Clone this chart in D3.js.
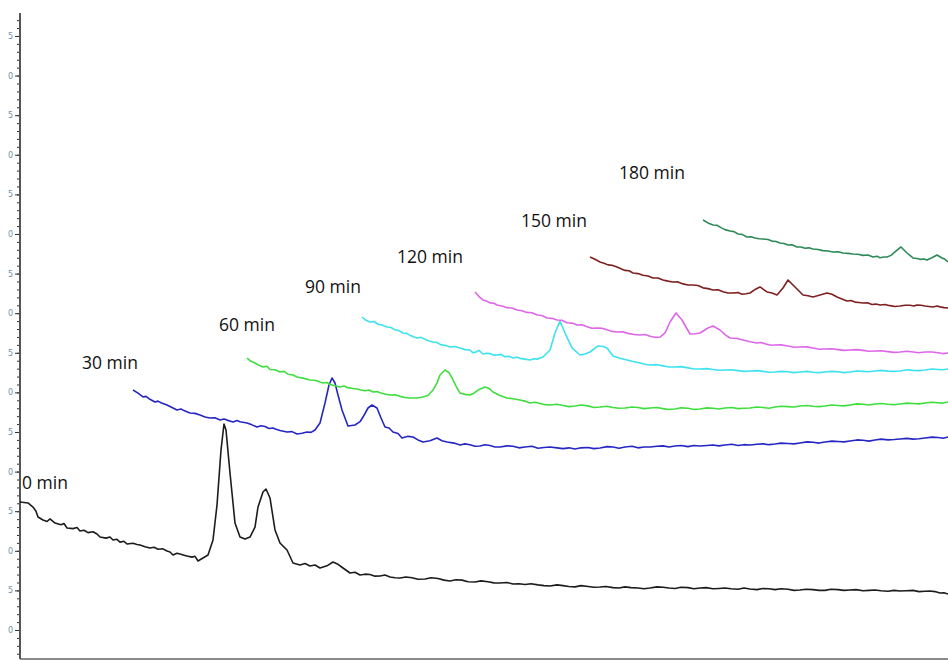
<!DOCTYPE html>
<html>
<head>
<meta charset="utf-8">
<script src="https://cdn.jsdelivr.net/npm/d3@7"></script>
<style>
  html, body { margin: 0; padding: 0; background: #fff; }
  svg { display: block; }
</style>
</head>
<body>
<svg id="chart" width="948" height="660"></svg>
<script>
// ---- data (x: retention offset units, y: signal units) ----
const seriesNames = ["0 min", "30 min", "60 min", "90 min", "120 min", "150 min", "180 min"];
const seriesColors = ["#1c1c1c", "#2626c4", "#3ede3e", "#3ee2ee", "#de66e8", "#7e2020", "#2c8a56"];

const trace0 = [[0,16.16],[8,16.04],[13,15.53],[16,15.0],[18,14.27],[23,13.89],[27,13.7],[30,14.02],[35,13.51],[41,13.3],[44,13.45],[47,12.88],[53,12.8],[57,12.95],[60,12.5],[64,12.6],[68,12.3],[73,12.4],[77,12.12],[80,11.74],[86,11.6],[90,11.75],[93,11.36],[97,11.45],[100,11.1],[104,11.2],[107,10.86],[113,10.95],[117,10.8],[120,10.73],[125,10.5],[130,10.35],[134,10.45],[138,10.2],[143,10.25],[147,9.97],[150,9.85],[153,9.47],[157,9.7],[160,9.6],[164,9.45],[167,9.34],[172,9.2],[175,9.3],[178,8.71],[183,9.09],[188,9.47],[193,11.36],[197,15.78],[201,22.73],[204,26.01],[206,25.25],[210,19.82],[215,13.51],[220,11.74],[225,11.49],[230,11.74],[235,13.0],[238,15.53],[243,17.42],[246,17.8],[250,16.67],[255,12.63],[260,10.98],[267,10.1],[273,8.46],[280,8.21],[285,8.4],[290,8.08],[295,8.2],[300,7.83],[307,8.1],[313,8.59],[318,8.3],[323,7.83],[330,7.2],[335,7.3],[340,6.94],[345,7.05],[350,7.0],[355,6.8],[360,6.82],[365,6.95],[370,6.7],[375,6.6],[380,6.57],[386,6.7],[392,6.6],[398,6.4],[405,6.44],[411,6.6],[418,6.5],[424,6.3],[430,6.19],[436,6.35],[442,6.3],[448,6.1],[455,6.06],[461,6.2],[468,6.1],[474,5.95],[480,5.93],[487,6.0],[493,5.8],[499,5.85],[505,5.75],[511,5.85],[518,5.7],[524,5.6],[530,5.56],[537,5.7],[543,5.6],[549,5.5],[555,5.45],[561,5.6],[568,5.5],[574,5.4],[580,5.43],[586,5.5],[593,5.35],[599,5.3],[605,5.45],[611,5.35],[618,5.3],[624,5.2],[630,5.3],[637,5.45],[643,5.4],[649,5.3],[655,5.25],[661,5.4],[668,5.35],[674,5.2],[680,5.3],[686,5.35],[693,5.2],[699,5.25],[705,5.3],[711,5.2],[718,5.15],[724,5.3],[730,5.18],[737,5.1],[743,5.25],[749,5.2],[755,5.1],[761,5.2],[768,5.15],[774,5.0],[780,5.05],[786,5.15],[793,5.1],[799,5.0],[805,5.0],[811,5.15],[818,5.1],[824,5.0],[830,5.05],[836,5.1],[843,4.95],[849,5.0],[855,5.05],[861,4.95],[868,4.9],[874,5.0],[880,4.92],[886,4.95],[893,5.0],[899,4.85],[905,4.9],[910,4.92],[915,4.85],[920,4.67],[924,4.7],[928,4.55]];

const trace30 = [[113,30.3],[118,29.9],[123,29.42],[126,29.5],[129,29.2],[135,28.79],[138,28.9],[141,28.7],[147,28.41],[152,28.1],[157,27.78],[161,27.9],[164,27.7],[170,27.4],[175,27.35],[180,27.15],[185,26.9],[190,26.77],[195,26.8],[200,26.52],[204,26.65],[207,26.5],[213,26.26],[217,26.45],[220,26.3],[227,26.14],[232,25.9],[237,25.63],[241,25.8],[245,25.7],[249,25.45],[253,25.51],[256,25.35],[260,25.2],[267,25.0],[272,25.05],[277,24.75],[282,24.85],[287,25.0],[291,24.95],[295,25.25],[300,26.14],[305,28.66],[309,30.93],[312,31.82],[315,31.19],[318,29.67],[322,27.78],[328,25.76],[335,25.88],[340,26.3],[343,26.89],[348,28.03],[352,28.41],[357,28.03],[361,26.77],[365,25.63],[369,25.5],[373,25.0],[378,24.8],[382,24.24],[388,24.45],[393,24.37],[398,24.0],[403,23.74],[410,23.9],[417,24.24],[422,23.9],[427,23.74],[434,23.6],[440,23.36],[445,23.5],[450,23.4],[455,23.2],[460,23.23],[465,23.4],[470,23.3],[475,23.1],[480,23.11],[487,23.25],[493,23.2],[499,23.0],[505,23.11],[512,23.2],[518,22.95],[524,23.05],[530,23.11],[537,23.0],[543,22.9],[549,23.0],[555,22.85],[561,23.0],[568,23.05],[574,22.9],[580,22.98],[587,23.15],[593,23.1],[599,22.95],[605,23.11],[612,23.2],[618,23.0],[624,23.1],[630,23.11],[637,23.2],[643,23.25],[649,23.1],[655,23.23],[661,23.3],[668,23.15],[674,23.3],[680,23.23],[687,23.3],[693,23.35],[699,23.25],[705,23.36],[712,23.45],[718,23.3],[724,23.4],[730,23.36],[737,23.45],[743,23.5],[749,23.4],[755,23.48],[761,23.6],[768,23.55],[774,23.5],[780,23.61],[787,23.75],[793,23.7],[799,23.6],[805,23.74],[812,23.85],[818,23.8],[824,23.75],[830,23.86],[837,24.0],[843,23.95],[849,23.85],[855,23.99],[861,24.1],[868,24.0],[874,24.05],[880,24.12],[887,24.2],[893,24.1],[899,24.15],[905,24.24],[912,24.35],[918,24.3],[923,24.2],[928,24.37]];

const trace60 = [[227,34.34],[230,34.0],[233,33.84],[238,33.5],[243,33.21],[247,33.3],[250,32.9],[255,32.85],[260,32.58],[264,32.65],[268,32.3],[273,32.2],[277,31.94],[283,31.8],[290,31.57],[296,31.5],[300,31.3],[303,31.19],[307,31.25],[310,31.0],[315,30.85],[320,30.68],[324,30.8],[328,30.6],[333,30.5],[337,30.43],[341,30.3],[345,30.2],[349,30.3],[353,30.05],[357,30.1],[360,29.95],[365,29.8],[370,29.67],[375,29.7],[380,29.5],[385,29.35],[390,29.29],[397,29.3],[403,29.42],[408,29.6],[413,30.3],[417,31.2],[420,32.2],[425,32.83],[429,32.5],[432,31.82],[436,30.8],[440,29.92],[445,29.75],[450,29.67],[454,29.9],[458,30.3],[465,30.68],[469,30.5],[473,30.05],[480,29.6],[487,29.29],[493,29.2],[500,29.04],[505,28.9],[510,28.66],[515,28.75],[520,28.6],[525,28.45],[530,28.41],[537,28.5],[543,28.35],[549,28.2],[555,28.28],[561,28.4],[568,28.3],[574,28.1],[580,28.16],[587,28.25],[593,28.1],[599,28.0],[605,28.03],[612,28.15],[618,28.1],[624,27.95],[630,28.03],[637,28.1],[643,27.95],[649,27.85],[655,27.9],[661,28.05],[668,28.0],[674,27.85],[680,27.9],[687,28.05],[693,28.0],[699,27.9],[705,28.03],[712,28.1],[718,27.95],[724,28.0],[730,28.03],[737,28.15],[743,28.1],[749,28.0],[755,28.16],[761,28.25],[768,28.2],[774,28.15],[780,28.28],[787,28.35],[793,28.25],[799,28.2],[805,28.28],[812,28.4],[818,28.35],[824,28.3],[830,28.41],[837,28.55],[843,28.5],[849,28.4],[855,28.54],[861,28.6],[868,28.5],[874,28.45],[880,28.54],[887,28.65],[893,28.6],[899,28.55],[905,28.66],[912,28.75],[918,28.7],[923,28.65],[928,28.79]];

const trace90 = [[342,39.52],[346,39.1],[350,38.89],[354,38.95],[358,38.6],[362,38.5],[367,38.26],[371,38.2],[375,37.9],[379,37.8],[383,37.5],[387,37.45],[390,37.2],[394,37.0],[397,36.87],[401,36.95],[405,36.7],[409,36.5],[413,36.36],[417,36.3],[421,36.0],[425,35.95],[430,35.73],[435,35.8],[440,35.6],[445,35.4],[450,35.35],[453,35.0],[456,35.1],[459,35.3],[463,34.85],[467,34.95],[470,34.9],[474,34.7],[477,34.72],[481,34.8],[485,34.5],[489,34.55],[493,34.34],[497,34.45],[500,34.3],[505,34.2],[510,34.09],[514,34.25],[517,34.2],[523,34.47],[530,35.35],[535,37.5],[540,39.02],[545,37.5],[552,35.61],[560,34.72],[565,34.85],[570,35.1],[578,35.86],[583,35.8],[587,35.61],[593,34.6],[600,34.3],[607,34.09],[613,33.9],[620,33.71],[625,33.55],[630,33.46],[637,33.5],[643,33.35],[649,33.2],[655,33.21],[661,33.25],[668,33.1],[674,32.95],[680,32.95],[687,33.0],[693,32.9],[699,32.8],[705,32.83],[712,32.85],[718,32.75],[724,32.65],[730,32.7],[737,32.75],[743,32.65],[749,32.55],[755,32.58],[761,32.65],[768,32.6],[774,32.5],[780,32.58],[787,32.65],[793,32.55],[799,32.5],[805,32.58],[812,32.65],[818,32.6],[824,32.5],[830,32.58],[837,32.7],[843,32.65],[849,32.6],[855,32.7],[861,32.78],[868,32.68],[874,32.65],[880,32.7],[887,32.85],[893,32.78],[899,32.75],[905,32.83],[912,32.95],[918,32.9],[923,32.85],[928,32.95]];

const trace120 = [[455,42.68],[459,42.1],[463,41.67],[467,41.5],[470,41.3],[474,41.25],[477,41.04],[482,40.9],[487,40.7],[492,40.65],[497,40.4],[502,40.3],[507,40.1],[512,40.05],[517,39.77],[522,39.7],[527,39.4],[532,39.35],[537,39.14],[542,39.1],[547,38.8],[552,38.75],[557,38.51],[562,38.55],[567,38.3],[572,38.1],[577,38.13],[582,38.1],[587,37.9],[592,37.7],[597,37.63],[603,37.65],[608,37.45],[614,37.3],[620,37.25],[625,37.3],[630,37.1],[635,36.95],[640,36.99],[645,37.5],[650,38.89],[656,40.03],[662,39.14],[670,37.37],[675,37.4],[680,37.5],[688,38.13],[693,38.38],[700,37.88],[705,37.3],[710,36.87],[717,36.8],[723,36.62],[730,36.4],[737,36.24],[741,36.3],[746,36.1],[751,35.95],[755,35.98],[761,36.0],[768,35.85],[774,35.7],[780,35.73],[787,35.75],[793,35.6],[799,35.45],[805,35.48],[812,35.5],[818,35.4],[824,35.3],[830,35.35],[837,35.4],[843,35.3],[849,35.2],[855,35.23],[861,35.25],[868,35.15],[874,35.05],[880,35.1],[887,35.2],[893,35.1],[899,35.0],[905,35.1],[912,35.1],[918,35.0],[923,34.9],[928,34.97]];

const trace150 = [[570,47.1],[575,46.8],[580,46.46],[584,46.3],[588,46.1],[592,46.05],[597,45.83],[601,45.6],[605,45.4],[609,45.35],[613,45.08],[618,45.0],[623,44.8],[628,44.7],[633,44.44],[638,44.45],[643,44.2],[648,44.05],[653,43.94],[658,43.95],[663,43.7],[668,43.55],[673,43.56],[678,43.5],[683,43.2],[688,43.1],[693,42.93],[698,42.95],[703,42.7],[708,42.55],[713,42.55],[718,42.6],[722,42.4],[726,42.45],[730,42.55],[736,43.06],[740,43.31],[747,42.68],[752,42.55],[757,42.3],[763,43.18],[768,44.19],[775,43.31],[779,42.8],[783,42.3],[788,42.2],[793,42.05],[800,42.3],[807,42.55],[812,42.4],[817,42.05],[822,41.8],[827,41.54],[831,41.6],[835,41.4],[839,41.35],[843,41.29],[848,41.3],[852,41.1],[856,41.15],[860,41.04],[865,41.1],[870,40.95],[875,40.85],[880,40.91],[885,41.0],[890,41.0],[894,40.9],[897,41.04],[901,41.0],[905,40.9],[909,40.85],[913,40.78],[917,40.9],[920,40.8],[924,40.7],[928,40.66]];

const trace180 = [[683,51.77],[688,51.4],[693,51.14],[697,51.1],[701,50.8],[705,50.55],[710,50.38],[714,50.3],[718,50.0],[722,49.95],[727,49.62],[731,49.65],[735,49.5],[739,49.4],[743,49.37],[748,49.3],[752,49.1],[756,49.05],[760,48.86],[764,48.8],[768,48.6],[772,48.65],[777,48.36],[781,48.35],[785,48.2],[789,48.25],[793,48.11],[798,48.05],[803,47.9],[808,47.85],[813,47.73],[818,47.75],[823,47.6],[828,47.55],[833,47.47],[838,47.45],[843,47.3],[848,47.35],[853,47.1],[857,47.2],[860,47.0],[864,47.1],[867,47.1],[871,47.3],[875,47.73],[881,48.36],[887,47.6],[893,46.97],[897,46.9],[900,46.8],[904,46.85],[907,46.72],[912,47.0],[917,47.35],[922,46.97],[925,46.8],[928,46.46]];

const traces = [trace0, trace30, trace60, trace90, trace120, trace150, trace180];

// label anchor positions (x offset, signal units)
const labelX = [2, 62, 199, 285, 377, 501, 599];
const labelY = [17.8, 33.0, 37.7, 42.5, 46.3, 50.9, 57.0];

const yMajorTicks = d3.range(0, 80, 5);
const yMinorTicks = d3.range(-3, 78, 1);
const yTickLabels = yMajorTicks.map(v => String(v % 10));

// ---- drawing ----
const svg = d3.select("#chart");
const W = 948, H = 660;
const x = d3.scaleLinear().domain([0, 928]).range([20, 948]);
const y = d3.scaleLinear().domain([-3.66, 77.9]).range([659, 13]);

// bottom axis line
svg.append("line")
  .attr("x1", 20).attr("x2", W).attr("y1", 659).attr("y2", 659)
  .attr("stroke", "#8a8a8a").attr("stroke-width", 2);

// minor ticks
const minorAxis = d3.axisLeft(y).tickValues(yMinorTicks).tickSize(3).tickFormat("");
const gMinor = svg.append("g").attr("transform", "translate(20,0)").call(minorAxis);
gMinor.select(".domain").remove();
gMinor.selectAll(".tick line").attr("stroke", "#333").attr("stroke-width", 1);

// major ticks
const majorAxis = d3.axisLeft(y).tickValues(yMajorTicks).tickSize(5).tickPadding(2)
  .tickFormat((d, i) => yTickLabels[i]);
const gMajor = svg.append("g").attr("transform", "translate(20,0)").call(majorAxis);
gMajor.select(".domain").remove();
gMajor.selectAll(".tick line").attr("stroke", "#333").attr("stroke-width", 1);
gMajor.selectAll(".tick text")
  .attr("fill", "#6f8fa8")
  .style("font-family", "DejaVu Sans, sans-serif")
  .style("font-size", "8px");

// vertical axis line
svg.append("line")
  .attr("x1", 20).attr("x2", 20).attr("y1", 13).attr("y2", 659)
  .attr("stroke", "#555").attr("stroke-width", 2);

const line = d3.line().x(d => x(d[0])).y(d => y(d[1]));

traces.forEach((t, i) => {
  svg.append("path")
    .datum(t)
    .attr("d", line)
    .attr("fill", "none")
    .attr("stroke", seriesColors[i])
    .attr("stroke-width", 1.6)
    .attr("stroke-linejoin", "round");
});

seriesNames.forEach((name, i) => {
  svg.append("text")
    .attr("x", x(labelX[i]))
    .attr("y", y(labelY[i]))
    .attr("fill", "#111")
    .style("font-family", "'Open Sans', sans-serif")
    .style("font-size", "17.5px")
    .text(name);
});
</script>
</body>
</html>
